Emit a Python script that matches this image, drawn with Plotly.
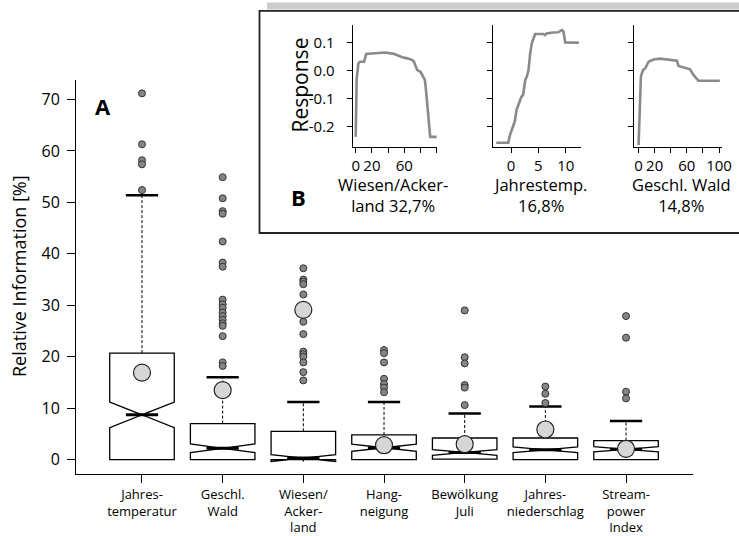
import numpy as np
import plotly.graph_objects as go

W, H = 739, 536

# ---------------- main panel (A) data ----------------
categories = ["Jahres-<br>temperatur", "Geschl.<br>Wald", "Wiesen/<br>Acker-<br>land",
              "Hang-<br>neigung", "Bewölkung<br>Juli", "Jahres-<br>niederschlag",
              "Stream-<br>power<br>Index"]
q1 = [0.0, 0.0, 0.0, 0.0, 0.1, 0.0, 0.0]
median = [8.7, 2.2, 0.3, 2.3, 1.4, 1.9, 2.0]
q3 = [20.7, 7.0, 5.5, 4.8, 4.2, 4.2, 3.7]
notch = [2.5, 0.84, 0.66, 0.7, 0.55, 0.55, 0.5]
upper_whisker = [51.4, 16.0, 11.2, 11.2, 8.95, 10.3, 7.5]
means = [16.9, 13.5, 29.1, 2.8, 3.0, 5.85, 2.1]
outliers = [
    [71.2, 61.3, 58.2, 57.4, 52.4],
    [54.9, 50.8, 48.3, 47.8, 42.4, 38.3, 37.5, 31.1, 30.2, 29.5, 28.6, 27.9,
     27.2, 26.5, 26.0, 24.0, 18.9, 18.2],
    [37.2, 35.0, 34.6, 34.1, 32.1, 26.8, 24.4, 21.0, 20.5, 20.0, 18.9, 17.0, 15.4],
    [21.3, 20.7, 18.9, 15.7, 14.7, 14.0, 13.1],
    [29.0, 19.9, 18.7, 14.5, 14.0, 10.6],
    [14.2, 12.8, 11.0],
    [27.9, 23.7, 13.2, 11.9],
]
y_ticks = [0, 10, 20, 30, 40, 50, 60, 70]

# ---------------- inset (B) data ----------------
wiesen_x = [0, 1.2, 3.3, 5.4, 10.4, 12.9, 24, 36.7, 47, 57.5, 63.7, 70, 72, 74, 76,
            80, 83, 85.4, 87, 88.7, 90, 92, 100]
wiesen_y = [-0.236, -0.03, 0.026, 0.032, 0.032, 0.06, 0.062, 0.065, 0.06, 0.048,
            0.044, 0.038, 0.032, 0.014, 0.002, -0.004, -0.019, -0.033, -0.075,
            -0.129, -0.188, -0.236, -0.236]
temp_x = [-2.7, -0.5, -0.2, 0.4, 0.7, 1.0, 1.3, 1.9, 2.2, 2.6, 2.9, 3.2, 3.5, 3.8,
          4.4, 5.9, 6.2, 6.5, 7.7, 8.6, 9.3, 9.6, 9.9, 10.8, 12.4]
temp_y = [-0.257, -0.257, -0.23, -0.2, -0.18, -0.14, -0.123, -0.093, -0.087, -0.033,
          -0.021, 0.002, 0.062, 0.098, 0.131, 0.131, 0.127, 0.133, 0.136, 0.137,
          0.145, 0.139, 0.101, 0.1, 0.1]
wald_x = [0, 2.9, 5.4, 8.3, 12.4, 18.6, 26.9, 39.3, 47.6, 49.6, 55.8, 64, 68.2,
          70.3, 74.4, 101]
wald_y = [-0.265, -0.021, 0.002, 0.008, 0.032, 0.04, 0.043, 0.04, 0.036, 0.017,
          0.012, 0.005, -0.015, -0.021, -0.036, -0.036]
inset_titles = ["Wiesen/Acker-<br>land 32,7%", "Jahrestemp.<br>16,8%", "Geschl. Wald<br>14,8%"]
resp_ticks = [-0.2, -0.1, 0.0, 0.1]
resp_ticktext = ["-0.2", "-0.1", "0.0", "0.1"]

FONT = "Open Sans"
pos = np.arange(1, len(categories) + 1)


def px(x):
    return x / W


def py(y):
    return 1 - y / H


fig = go.Figure()

# notched boxes
fig.add_trace(go.Box(
    x=pos, q1=q1, median=median, q3=q3, lowerfence=q1, upperfence=q3,
    notchspan=notch, notched=True, notchwidth=0.5, width=0.8, whiskerwidth=0,
    fillcolor="white", line=dict(color="black", width=1.3), boxpoints=False,
    hoverinfo="skip", showlegend=False, xaxis="x", yaxis="y"))

# dashed whiskers
wx, wy = [], []
for p, a, b in zip(pos, q3, upper_whisker):
    wx += [p, p, None]
    wy += [a, b, None]
fig.add_trace(go.Scatter(x=wx, y=wy, mode="lines", line=dict(color="black", width=1, dash="3px,2px"),
                         hoverinfo="skip", showlegend=False))
# staples
sx, sy = [], []
for p, b in zip(pos, upper_whisker):
    sx += [p - 0.2, p + 0.2, None]
    sy += [b, b, None]
fig.add_trace(go.Scatter(x=sx, y=sy, mode="lines", line=dict(color="black", width=2.5),
                         hoverinfo="skip", showlegend=False))
# thick medians
mx, my = [], []
for p, m in zip(pos, median):
    mx += [p - 0.2, p + 0.2, None]
    my += [m, m, None]
fig.add_trace(go.Scatter(x=mx, y=my, mode="lines", line=dict(color="black", width=3),
                         hoverinfo="skip", showlegend=False))
# outliers
ox, oy = [], []
for p, vals in zip(pos, outliers):
    ox += [p] * len(vals)
    oy += vals
fig.add_trace(go.Scatter(x=ox, y=oy, mode="markers",
                         marker=dict(size=7, color="#858585", line=dict(color="#333333", width=1)),
                         hoverinfo="skip", showlegend=False))
# means
fig.add_trace(go.Scatter(x=pos, y=means, mode="markers",
                         marker=dict(size=17, color="#d6d6d6", line=dict(color="#222222", width=1.2)),
                         hoverinfo="skip", showlegend=False))

# inset curves
for i, (xs, ys) in enumerate([(wiesen_x, wiesen_y), (temp_x, temp_y), (wald_x, wald_y)]):
    fig.add_trace(go.Scatter(x=xs, y=ys, mode="lines", line=dict(color="#8a8a8a", width=2.6),
                             xaxis="x%d" % (i + 2), yaxis="y%d" % (i + 2),
                             hoverinfo="skip", showlegend=False))

axis_common = dict(showline=True, linecolor="black", linewidth=1, ticks="outside",
                   tickcolor="black", showgrid=False, zeroline=False, automargin=False)

layout = dict(
    width=W, height=H, margin=dict(l=0, r=0, t=0, b=0, pad=0, autoexpand=False),
    paper_bgcolor="white", plot_bgcolor="rgba(0,0,0,0)",
    font=dict(family=FONT, color="black"),
    showlegend=False,
    xaxis=dict(domain=[px(76), px(693)], range=[0.182, 7.83], tickvals=pos, ticktext=categories,
               ticklen=8, tickfont=dict(size=13), anchor="y", **axis_common),
    yaxis=dict(domain=[py(474), py(80)], range=[-2.8, 73.8], tickvals=y_ticks,
               ticklen=8, tickfont=dict(size=16), ticklabelstandoff=4, anchor="x", **axis_common),
)

inset_dom_x = [(352.7, 437.0), (493.3, 580.7), (634.3, 721.7)]
inset_rng_x = [[-3.7, 100.4], [-3.24, 12.74], [-5.3, 103.3]]
inset_tv = [[0, 20, 40, 60, 80, 100], [0, 5, 10], [0, 20, 40, 60, 80, 100]]
inset_tt = [["0", "20", "", "60", "", ""], ["0", "5", "10"], ["0", "20", "", "60", "", "100"]]
for i in range(3):
    n = i + 2
    layout["xaxis%d" % n] = dict(domain=[px(inset_dom_x[i][0]), px(inset_dom_x[i][1])],
                                 range=inset_rng_x[i], tickvals=inset_tv[i], ticktext=inset_tt[i],
                                 ticklen=5, tickfont=dict(size=15), anchor="y%d" % n, **axis_common)
    layout["yaxis%d" % n] = dict(domain=[py(146.7), py(25)], range=[-0.271, 0.163],
                                 tickvals=resp_ticks, ticktext=resp_ticktext if i == 0 else [""] * 4,
                                 ticklen=5, tickfont=dict(size=15), ticklabelstandoff=9,
                                 anchor="x%d" % n, **axis_common)

fig.update_layout(**layout)

# inset frame
fig.add_shape(type="rect", xref="paper", yref="paper", x0=px(267), x1=px(745), y0=py(9.5), y1=py(2.5),
              fillcolor="#cccccc", line=dict(width=0), layer="below")
fig.add_shape(type="rect", xref="paper", yref="paper", x0=px(259.5), x1=px(760), y0=py(233), y1=py(10.8),
              fillcolor="white", line=dict(color="#222222", width=1.8), layer="below")

annots = [
    dict(x=px(19), y=py(276), text="Relative Information [%]", textangle=-90, font=dict(size=18)),
    dict(x=px(299.5), y=py(85), text="Response", textangle=-90, font=dict(size=21)),
    dict(x=px(103), y=py(106), text="<b>A</b>", font=dict(size=22)),
    dict(x=px(298), y=py(197), text="<b>B</b>", font=dict(size=22)),
]
centers = [393, 540, 681.7]
for c, t in zip(centers, inset_titles):
    annots.append(dict(x=px(c), y=py(194.5), text=t, font=dict(size=16.5)))
for a in annots:
    a.update(xref="paper", yref="paper", showarrow=False, xanchor="center", yanchor="middle")
    fig.add_annotation(**a)

fig.write_html("out.html", config={"displayModeBar": False},
               post_script="document.body.style.margin='0px';")
